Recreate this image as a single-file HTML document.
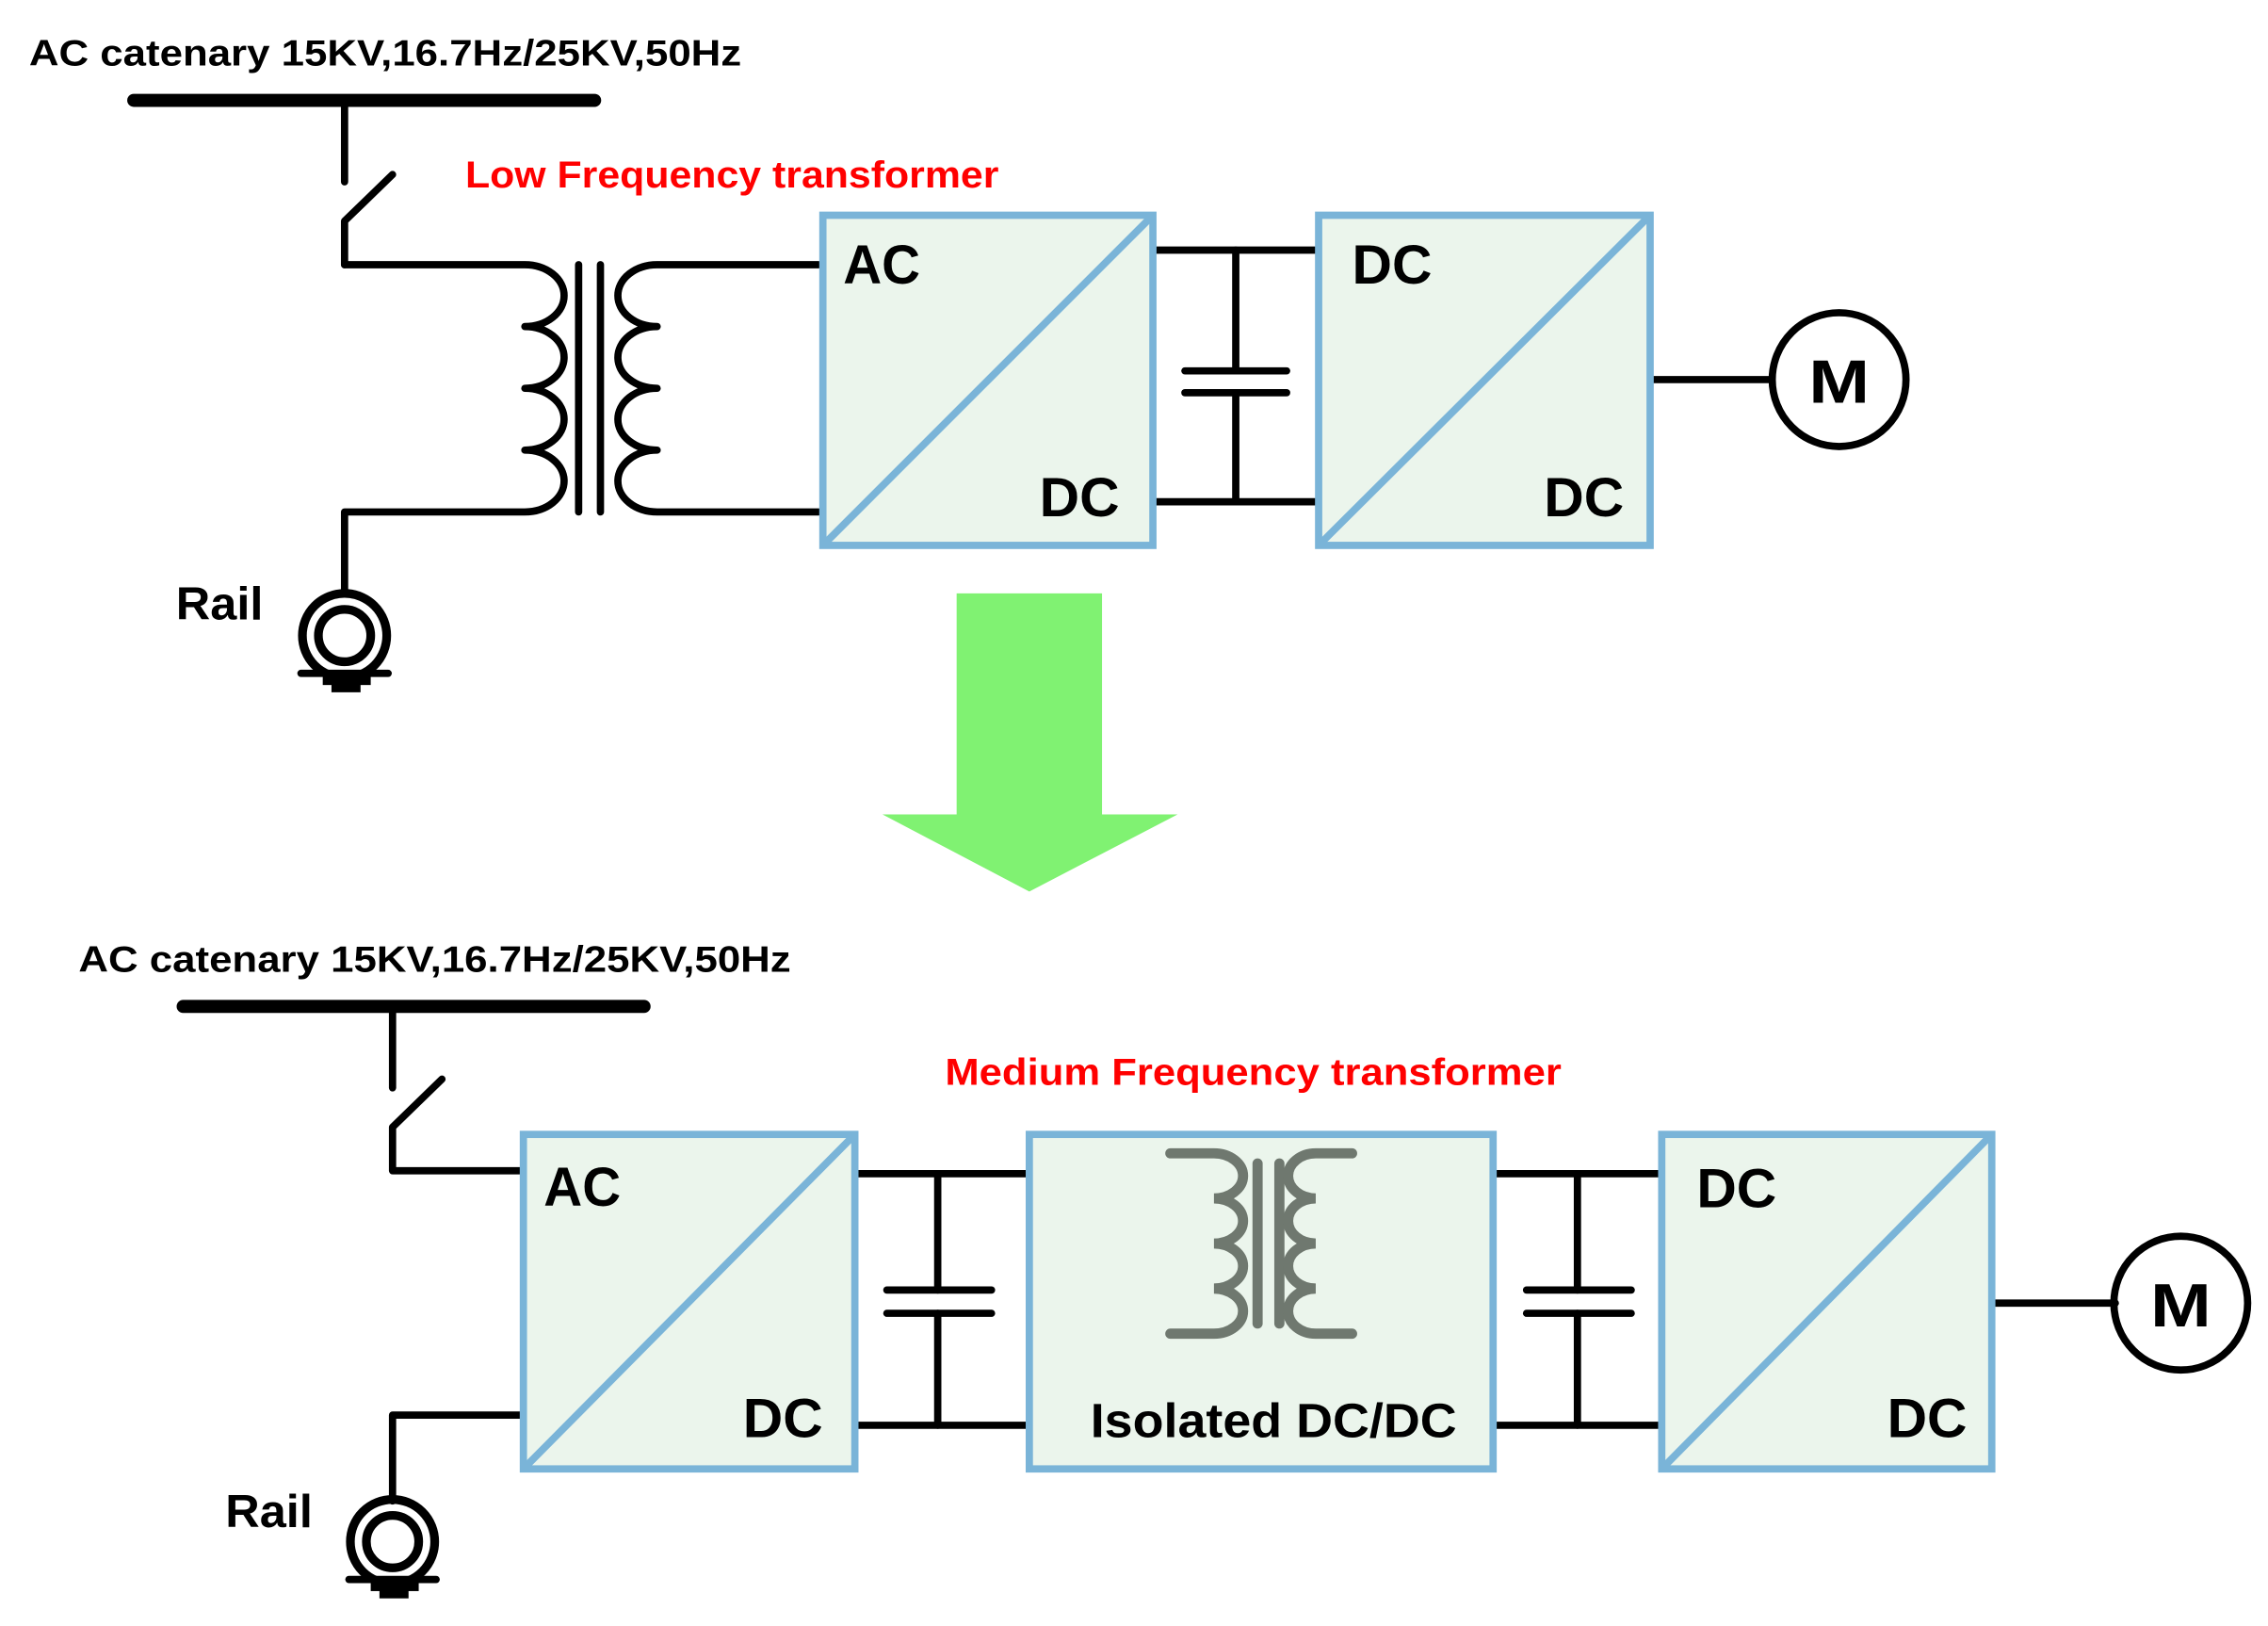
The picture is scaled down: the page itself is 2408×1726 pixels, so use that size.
<!DOCTYPE html>
<html><head><meta charset="utf-8"><style>
html,body{margin:0;padding:0;background:#fff;}
svg{display:block;}
text{font-family:"Liberation Sans",sans-serif;font-weight:bold;}
</style></head><body>
<svg width="2408" height="1726" viewBox="0 0 1560 1118" preserveAspectRatio="none" xmlns="http://www.w3.org/2000/svg">
<g fill="none" stroke="#000" stroke-width="5" stroke-linecap="round" stroke-linejoin="round">
<!-- TOP -->
<line x1="92" y1="69" x2="409" y2="69" stroke-width="9"/>
<polyline points="237,69 237,125"/>
<polyline points="270,120 237,152 237,182"/>
<path d="M237,182 H361 A27,21.25 0 0 1 361,224.5 A27,21.25 0 0 1 361,267 A27,21.25 0 0 1 361,309.5 A27,21.25 0 0 1 361,352 H237 V408"/>
<line x1="398" y1="182" x2="398" y2="352"/>
<line x1="413" y1="182" x2="413" y2="352"/>
<path d="M563,182 H452 A27,21.25 0 0 0 452,224.5 A27,21.25 0 0 0 452,267 A27,21.25 0 0 0 452,309.5 A27,21.25 0 0 0 452,352 H563"/>
<circle cx="237" cy="437" r="29" stroke-width="6"/>
<circle cx="237" cy="437" r="18" stroke-width="6"/>
<line x1="207" y1="463" x2="267" y2="463"/>
<!-- caps top -->
<polyline points="793,172 908,172"/>
<polyline points="793,345 908,345"/>
<polyline points="850,172 850,255"/>
<polyline points="850,270 850,345"/>
<line x1="815" y1="255" x2="885" y2="255"/>
<line x1="815" y1="270" x2="885" y2="270"/>
<line x1="1135" y1="261" x2="1218" y2="261"/>
<circle cx="1265" cy="261" r="46"/>
<!-- BOTTOM -->
<line x1="126" y1="692" x2="443" y2="692" stroke-width="9"/>
<polyline points="270,692 270,748"/>
<polyline points="304,742 270,775 270,805 360,805"/>
<polyline points="360,973 270,973 270,1032"/>
<circle cx="270" cy="1060" r="29" stroke-width="6"/>
<circle cx="270" cy="1060" r="18" stroke-width="6"/>
<line x1="240" y1="1086" x2="300" y2="1086"/>
<polyline points="588,807 708,807"/>
<polyline points="588,980 708,980"/>
<polyline points="645,807 645,887"/>
<polyline points="645,903 645,980"/>
<line x1="610" y1="887" x2="682" y2="887"/>
<line x1="610" y1="903" x2="682" y2="903"/>
<polyline points="1027,807 1145,807"/>
<polyline points="1027,980 1145,980"/>
<polyline points="1085,807 1085,887"/>
<polyline points="1085,903 1085,980"/>
<line x1="1050" y1="887" x2="1122" y2="887"/>
<line x1="1050" y1="903" x2="1122" y2="903"/>
<line x1="1370" y1="896" x2="1455" y2="896"/>
<circle cx="1500" cy="896" r="46"/>
</g>
<rect x="222" y="463" width="33" height="8" fill="#000"/>
<rect x="228" y="470" width="20" height="6" fill="#000"/>
<rect x="255" y="1086" width="33" height="8" fill="#000"/>
<rect x="261" y="1093" width="20" height="6" fill="#000"/>
<!-- boxes -->
<g fill="#ebf5ec" stroke="#7ab4d8" stroke-width="5">
<rect x="566" y="148" width="227" height="227"/>
<rect x="907" y="148" width="228" height="227"/>
<rect x="360" y="780" width="228" height="230"/>
<rect x="708" y="780" width="319" height="230"/>
<rect x="1143" y="780" width="227" height="230"/>
</g>
<g stroke="#7ab4d8" stroke-width="5">
<line x1="566" y1="375" x2="793" y2="148"/>
<line x1="907" y1="375" x2="1135" y2="148"/>
<line x1="360" y1="1010" x2="588" y2="780"/>
<line x1="1143" y1="1010" x2="1370" y2="780"/>
</g>
<!-- gray transformer -->
<g fill="none" stroke="#6f786f" stroke-width="7" stroke-linecap="round">
<path d="M805,793 H835 A20,15.5 0 0 1 835,824 A20,15.5 0 0 1 835,855 A20,15.5 0 0 1 835,886 A20,15.5 0 0 1 835,917 H805"/>
<line x1="865" y1="800" x2="865" y2="910"/>
<line x1="880" y1="800" x2="880" y2="910"/>
<path d="M930,793 H905 A19,15.5 0 0 0 905,824 A19,15.5 0 0 0 905,855 A19,15.5 0 0 0 905,886 A19,15.5 0 0 0 905,917 H930"/>
</g>
<!-- arrow -->
<polygon points="658,408 758,408 758,560 810,560 708,613 607,560 658,560" fill="#80f272"/>
<!-- text -->
<g fill="#000">
<text x="20" y="45" font-size="25" textLength="490" lengthAdjust="spacingAndGlyphs">AC catenary 15KV,16.7Hz/25KV,50Hz</text>
<text x="54" y="668" font-size="25" textLength="490" lengthAdjust="spacingAndGlyphs">AC catenary 15KV,16.7Hz/25KV,50Hz</text>
<text x="121" y="426" font-size="32" textLength="60" lengthAdjust="spacingAndGlyphs">Rail</text>
<text x="155" y="1050" font-size="32" textLength="60" lengthAdjust="spacingAndGlyphs">Rail</text>
<text x="580" y="195" font-size="38" textLength="53" lengthAdjust="spacingAndGlyphs">AC</text>
<text x="715" y="355" font-size="38" textLength="55" lengthAdjust="spacingAndGlyphs">DC</text>
<text x="930" y="195" font-size="38" textLength="55" lengthAdjust="spacingAndGlyphs">DC</text>
<text x="1062" y="355" font-size="38" textLength="55" lengthAdjust="spacingAndGlyphs">DC</text>
<text x="374" y="829" font-size="38" textLength="53" lengthAdjust="spacingAndGlyphs">AC</text>
<text x="511" y="988" font-size="38" textLength="55" lengthAdjust="spacingAndGlyphs">DC</text>
<text x="1167" y="830" font-size="38" textLength="55" lengthAdjust="spacingAndGlyphs">DC</text>
<text x="1298" y="988" font-size="38" textLength="55" lengthAdjust="spacingAndGlyphs">DC</text>
<text x="750" y="988" font-size="33" textLength="252" lengthAdjust="spacingAndGlyphs">Isolated DC/DC</text>
<text x="1244" y="277" font-size="42" textLength="42" lengthAdjust="spacingAndGlyphs">M</text>
<text x="1479" y="912" font-size="42" textLength="42" lengthAdjust="spacingAndGlyphs">M</text>
</g>
<g fill="#ff0000">
<text x="320" y="129" font-size="26" textLength="367" lengthAdjust="spacingAndGlyphs">Low Frequency transformer</text>
<text x="650" y="746" font-size="26" textLength="424" lengthAdjust="spacingAndGlyphs">Medium Frequency transformer</text>
</g>
</svg>
</body></html>
